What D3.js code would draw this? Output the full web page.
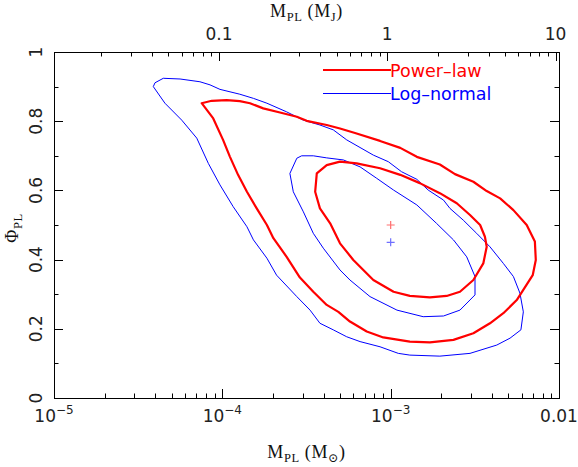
<!DOCTYPE html>
<html>
<head>
<meta charset="utf-8">
<style>
    body { margin: 0; background: #fff; }
    svg { display: block; }
    .tick-label { font-family: 'DejaVu Sans', sans-serif; font-size: 17px; fill: #222; }
    .axis-title { font-family: 'Liberation Serif', 'DejaVu Serif', serif; font-size: 18px; fill: #111; letter-spacing: 0.6px; }
    .legend { font-family: 'DejaVu Sans', sans-serif; font-size: 17.5px; }
</style>
<title>Power-law vs log-normal contours</title>
</head>
<body>
<svg width="578" height="467"></svg>
<script src="https://d3js.org/d3.v7.min.js"></script>
<script>
    // contours in (M_PL [Msun], Phi_PL)
    const powerOuterM = [7.54e-5, 8.65e-5, 1.06e-4, 1.27e-4, 1.46e-4, 1.75e-4, 2.20e-4, 2.77e-4, 3.17e-4, 4.17e-4,
        5.00e-4, 6.14e-4, 8.65e-4, 1.14e-3, 1.43e-3, 1.96e-3, 2.41e-3, 3.10e-3, 3.72e-3, 4.47e-3,
        5.36e-3, 6.43e-3, 7.19e-3, 7.28e-3, 6.98e-3, 5.61e-3, 4.67e-3, 3.89e-3, 3.10e-3, 2.36e-3,
        1.71e-3, 1.30e-3, 9.04e-4, 7.21e-4, 5.73e-4, 4.89e-4, 4.17e-4, 3.47e-4, 2.89e-4, 2.41e-4,
        2.01e-4, 1.84e-4, 1.60e-4, 1.40e-4, 1.24e-4, 1.11e-4, 1.01e-4, 8.83e-5]
    const powerOuterPhi = [0.852, 0.859, 0.861, 0.858, 0.852, 0.837, 0.825, 0.813, 0.801, 0.789,
        0.779, 0.766, 0.743, 0.723, 0.697, 0.675, 0.647, 0.625, 0.598, 0.577,
        0.543, 0.500, 0.452, 0.399, 0.355, 0.283, 0.245, 0.216, 0.187, 0.168,
        0.161, 0.163, 0.175, 0.192, 0.221, 0.249, 0.269, 0.307, 0.348, 0.408,
        0.462, 0.500, 0.548, 0.596, 0.645, 0.697, 0.746, 0.808]

    const powerInnerM = [5.00e-4, 6.28e-4, 8.65e-4, 1.14e-3, 1.49e-3, 1.96e-3, 2.47e-3, 2.96e-3, 3.40e-3, 3.63e-3,
        3.72e-3, 3.55e-3, 3.10e-3, 2.58e-3, 2.15e-3, 1.71e-3, 1.30e-3, 1.04e-3, 7.89e-4, 6.00e-4,
        5.00e-4, 4.37e-4, 3.80e-4, 3.56e-4, 3.64e-4, 4.17e-4]
    const powerInnerPhi = [0.683, 0.678, 0.664, 0.645, 0.621, 0.592, 0.563, 0.529, 0.500, 0.466,
        0.437, 0.389, 0.341, 0.307, 0.295, 0.291, 0.295, 0.307, 0.341, 0.399,
        0.447, 0.505, 0.548, 0.596, 0.649, 0.673]

    const lognormOuterM = [3.89e-5, 3.98e-5, 4.46e-5, 5.61e-5, 7.36e-5, 8.45e-5, 9.68e-5, 1.27e-4, 1.53e-4, 1.84e-4,
        2.41e-4, 3.03e-4, 3.80e-4, 4.56e-4, 5.48e-4, 7.89e-4, 9.68e-4, 1.16e-3, 1.43e-3, 1.67e-3,
        2.06e-3, 2.25e-3, 2.70e-3, 3.24e-3, 3.89e-3, 4.67e-3, 5.36e-3, 5.86e-3, 6.14e-3, 5.94e-3,
        5.12e-3, 4.27e-3, 2.96e-3, 1.96e-3, 1.30e-3, 1.11e-3, 8.65e-4, 6.58e-4, 5.48e-4, 4.56e-4,
        3.80e-4, 3.32e-4, 2.77e-4, 2.10e-4, 1.84e-4, 1.53e-4, 1.40e-4, 1.16e-4, 9.68e-5, 8.26e-5,
        7.05e-5, 5.74e-5, 4.56e-5]
    const lognormOuterPhi = [0.900, 0.911, 0.924, 0.922, 0.914, 0.905, 0.892, 0.878, 0.866, 0.852,
        0.827, 0.803, 0.789, 0.775, 0.746, 0.702, 0.683, 0.654, 0.632, 0.601,
        0.572, 0.548, 0.514, 0.476, 0.437, 0.389, 0.351, 0.303, 0.249, 0.197,
        0.173, 0.153, 0.129, 0.121, 0.124, 0.129, 0.148, 0.163, 0.177, 0.197,
        0.216, 0.254, 0.293, 0.355, 0.404, 0.457, 0.495, 0.553, 0.616, 0.678,
        0.751, 0.803, 0.852]

    const lognormInnerM = [2.96e-4, 3.47e-4, 4.17e-4, 5.24e-4, 6.58e-4, 8.26e-4, 1.04e-3, 1.43e-3, 1.87e-3, 2.36e-3,
        2.83e-3, 3.17e-3, 3.17e-3, 2.58e-3, 2.06e-3, 1.56e-3, 1.09e-3, 7.54e-4, 5.73e-4, 5.00e-4,
        3.98e-4, 3.47e-4, 3.03e-4, 2.64e-4, 2.52e-4, 2.77e-4]
    const lognormInnerPhi = [0.700, 0.700, 0.694, 0.688, 0.668, 0.635, 0.601, 0.558, 0.505, 0.457,
        0.408, 0.351, 0.298, 0.254, 0.237, 0.235, 0.254, 0.293, 0.341, 0.370,
        0.433, 0.476, 0.538, 0.596, 0.649, 0.693]

    // best fits (power-law, log-normal)
    const bestM = [1e-3, 1e-3]
    const bestPhi = [0.5, 0.45]

    const xMajor = [1e-5, 1e-4, 1e-3, 1e-2]
    const xMajorLabels = [['10', '\u22125'], ['10', '\u22124'], ['10', '\u22123'], ['0.01', '']]
    const topMajor = [0.1, 1, 10]
    const topMajorLabels = ['0.1', '1', '10']
    const yMajor = [0, 0.2, 0.4, 0.6, 0.8, 1]
    const yMajorLabels = ['0', '0.2', '0.4', '0.6', '0.8', '1']
    const yMinor = [0.1, 0.3, 0.5, 0.7, 0.9]

    const MJ_PER_MSUN = 1047.6

    let svg = d3.select('svg')
    let plotLeft = 54, plotRight = 559, plotTop = 52, plotBottom = 398
    let majorLen = 9, minorLen = 4.5

    let x = d3.scaleLog().domain([1e-5, 1e-2]).range([plotLeft, plotRight])
    let xTop = d3.scaleLog().domain(x.domain().map(d => d * MJ_PER_MSUN)).range([plotLeft, plotRight])
    let y = d3.scaleLinear().domain([0, 1]).range([plotBottom, plotTop])

    let isMajor = v => Math.abs(Math.log10(v) - Math.round(Math.log10(v))) < 1e-6

    // frame
    svg.append('rect')
        .attr('x', plotLeft + 0.5).attr('y', plotTop + 0.5)
        .attr('width', plotRight - plotLeft).attr('height', plotBottom - plotTop)
        .attr('fill', 'none').attr('stroke', '#000').attr('stroke-width', 1)

    let ticks = svg.append('g').attr('stroke', '#000').attr('stroke-width', 1)

    // bottom + top ticks
    x.ticks().forEach(v => {
        let px = Math.round(x(v)) + 0.5
        let len = isMajor(v) ? majorLen : minorLen
        ticks.append('line').attr('x1', px).attr('x2', px).attr('y1', plotBottom).attr('y2', plotBottom - len)
    })
    xTop.ticks().forEach(v => {
        let px = Math.round(xTop(v)) + 0.5
        let len = isMajor(v) ? majorLen : minorLen
        ticks.append('line').attr('x1', px).attr('x2', px).attr('y1', plotTop).attr('y2', plotTop + len)
    })

    // left + right ticks
    yMajor.concat(yMinor).forEach(v => {
        let py = Math.round(y(v)) + 0.5
        let len = yMajor.includes(v) ? majorLen : minorLen
        ticks.append('line').attr('x1', plotLeft).attr('x2', plotLeft + len).attr('y1', py).attr('y2', py)
        ticks.append('line').attr('x1', plotRight).attr('x2', plotRight - len).attr('y1', py).attr('y2', py)
    })

    // bottom labels
    xMajor.forEach((v, i) => {
        let t = svg.append('text').attr('class', 'tick-label')
            .attr('x', x(v)).attr('y', 422).attr('text-anchor', 'middle')
        t.append('tspan').text(xMajorLabels[i][0])
        if (xMajorLabels[i][1]) {
            t.append('tspan').attr('dy', -8).attr('font-size', 12).text(xMajorLabels[i][1])
        }
    })

    // top labels
    topMajor.forEach((v, i) => {
        svg.append('text').attr('class', 'tick-label')
            .attr('x', xTop(v)).attr('y', 40).attr('text-anchor', 'middle')
            .text(topMajorLabels[i])
    })

    // left labels (rotated)
    yMajor.forEach((v, i) => {
        svg.append('text').attr('class', 'tick-label')
            .attr('transform', `translate(42,${y(v)}) rotate(-90)`)
            .attr('text-anchor', 'middle')
            .text(yMajorLabels[i])
    })

    // axis titles
    function subTitle(sel, parts) {
        parts.forEach(p => {
            let ts = sel.append('tspan').text(p[0])
            if (p[1] === 'sub') ts.attr('dy', 4).attr('font-size', 12.5)
            if (p[1] === 'back') ts.attr('dy', -4)
        })
    }
    subTitle(svg.append('text').attr('class', 'axis-title')
        .attr('x', (plotLeft + plotRight) / 2).attr('y', 17).attr('text-anchor', 'middle'),
        [['M'], ['PL', 'sub'], ['\u00a0(M', 'back'], ['J', 'sub'], [')', 'back']])
    subTitle(svg.append('text').attr('class', 'axis-title')
        .attr('x', (plotLeft + plotRight) / 2).attr('y', 458).attr('text-anchor', 'middle'),
        [['M'], ['PL', 'sub'], ['\u00a0(M', 'back'], ['\u2299', 'sub'], [')', 'back']])
    subTitle(svg.append('text').attr('class', 'axis-title')
        .attr('transform', 'translate(18,228) rotate(-90)').attr('text-anchor', 'middle'),
        [['\u03a6'], ['PL', 'sub']])

    // contours
    let line = d3.line()
        .x(d => x(d[0]))
        .y(d => y(d[1]))
        .curve(d3.curveLinearClosed)

    let contours = [
        { m: lognormOuterM, phi: lognormOuterPhi, color: '#0000ff', w: 1 },
        { m: lognormInnerM, phi: lognormInnerPhi, color: '#0000ff', w: 1 },
        { m: powerOuterM, phi: powerOuterPhi, color: '#ff0000', w: 2.2 },
        { m: powerInnerM, phi: powerInnerPhi, color: '#ff0000', w: 2.2 }
    ]

    svg.append('g')
        .selectAll('path')
        .data(contours)
        .join('path')
        .attr('d', d => line(d3.zip(d.m, d.phi)))
        .attr('fill', 'none')
        .attr('stroke', d => d.color)
        .attr('stroke-width', d => d.w)
        .attr('stroke-linejoin', 'round')

    // best-fit crosses
    let crossColors = ['#ff4040', '#4040ff']
    svg.append('g')
        .selectAll('path')
        .data(d3.zip(bestM, bestPhi, crossColors))
        .join('path')
        .attr('d', d => {
            let cx = x(d[0]), cy = y(d[1])
            return `M${cx - 4},${cy}H${cx + 4}M${cx},${cy - 4}V${cy + 4}`
        })
        .attr('stroke', d => d[2])
        .attr('stroke-width', 1.2)
        .attr('opacity', 0.75)

    // legend
    let legend = [
        { label: 'Power\u2013law', color: '#ff0000', w: 2.2, y: 70 },
        { label: 'Log\u2013normal', color: '#0000ff', w: 1, y: 93.5 }
    ]
    legend.forEach(d => {
        svg.append('line')
            .attr('x1', 323).attr('x2', 391).attr('y1', d.y).attr('y2', d.y)
            .attr('stroke', d.color).attr('stroke-width', d.w)
        svg.append('text').attr('class', 'legend')
            .attr('x', 390).attr('y', d.y + 6.5)
            .attr('fill', d.color)
            .text(d.label)
    })
</script>
</body>
</html>
